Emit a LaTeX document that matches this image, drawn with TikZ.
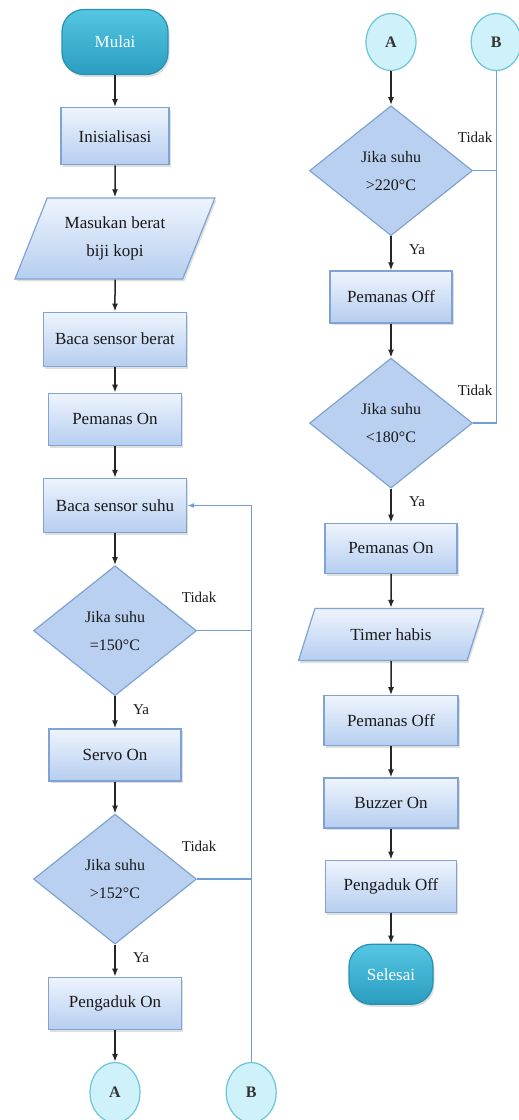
\documentclass[tikz,border=0pt]{standalone}
\usepackage{fontspec}
\setmainfont{Liberation Serif}
\usetikzlibrary{positioning,shapes.geometric,shadows,arrows.meta}

\definecolor{boxtop}{HTML}{EEF4FD}
\definecolor{boxbot}{HTML}{B6CEF0}
\definecolor{boxline}{HTML}{7FA3D3}
\definecolor{diafill}{HTML}{B9D0F0}
\definecolor{termtop}{HTML}{55C6E2}
\definecolor{termbot}{HTML}{2A9DC0}
\definecolor{termline}{HTML}{2A8FB0}
\definecolor{connfill}{HTML}{CFF1F9}
\definecolor{connline}{HTML}{6CC4D8}
\definecolor{loopline}{HTML}{6F9FD4}

\tikzset{
    shade/.style={drop shadow={opacity=0.25,shadow xshift=1.5pt,shadow yshift=-2.5pt}},
    proc/.style={rectangle,draw=boxline,line width=1.2pt,top color=boxtop,bottom color=boxbot,
        minimum height=52pt,font=\fontsize{17}{20}\selectfont,text=black!90,shade},
    io/.style={trapezium,trapezium left angle=63,trapezium right angle=117,trapezium stretches=true,
        draw=boxline,line width=1.2pt,top color=boxtop,bottom color=boxbot,minimum height=52pt,
        align=center,font=\fontsize{17}{28}\selectfont,text=black!90,shade},
    dec/.style={diamond,draw=boxline,line width=1.2pt,fill=diafill,minimum width=163pt,
        minimum height=130pt,inner sep=2pt,align=center,font=\fontsize{16}{28}\selectfont,text=black!90},
    term/.style={rectangle,rounded corners=22pt,draw=termline,line width=1.2pt,top color=termtop,
        bottom color=termbot,text=white,font=\fontsize{17}{20}\selectfont,shade},
    conn/.style={ellipse,draw=connline,line width=1.2pt,fill=connfill,minimum width=50pt,
        minimum height=60pt,inner sep=0pt,font=\fontsize{16}{20}\selectfont\bfseries,text=black!80},
    lbl/.style={font=\fontsize{15}{18}\selectfont,text=black!90},
    arr/.style={-{Latex[length=8pt,width=6pt]},line width=1.5pt,black!85},
    loop/.style={draw=loopline,line width=1.3pt}
}

\begin{document}
\begin{tikzpicture}[x=1pt,y=1pt]
    \useasboundingbox (0,0) rectangle (519,-1120);

    % left column
    \begin{scope}[node distance=32pt]
        \node (mulai)  [term,minimum width=106pt,minimum height=65pt] at (115,-42) {Mulai};
        \node (init)   [proc,minimum width=108pt,minimum height=57pt,below=of mulai] {Inisialisasi};
        \node (input)  [io,minimum width=200pt,minimum height=81pt,below=of init] {Masukan berat\\biji kopi};
        \node (bberat) [proc,minimum width=143pt,minimum height=54pt,below=of input] {Baca sensor berat};
        \node (pon1)   [proc,minimum width=133pt,below=26pt of bberat] {Pemanas On};
        \node (bsuhu)  [proc,minimum width=143pt,minimum height=54pt,below=of pon1] {Baca sensor suhu};
        \node (d1)     [dec,below=of bsuhu] {Jika suhu\\=150°C};
        \node (servo)  [proc,minimum width=132pt,below=of d1] {Servo On};
        \node (d2)     [dec,below=of servo] {Jika suhu\\>152°C};
        \node (aduk)   [proc,minimum width=133pt,below=of d2] {Pengaduk On};
        \node (A1)     [conn,below=of aduk] {A};
        \node (B1)     [conn,right=85pt of A1] {B};
    \end{scope}

    % right column
    \begin{scope}[node distance=34pt]
        \node (A2)      [conn,minimum height=57pt] at (391,-42) {A};
        \node (B2)      [conn,minimum height=57pt,right=54pt of A2] {B};
        \node (d3)      [dec,below=of A2] {Jika suhu\\>220°C};
        \node (poff1)   [proc,minimum width=122pt,below=of d3] {Pemanas Off};
        \node (d4)      [dec,below=of poff1] {Jika suhu\\<180°C};
        \node (pon2)    [proc,minimum width=132pt,minimum height=50pt,below=of d4] {Pemanas On};
        \node (timer)   [io,minimum width=185pt,below=of pon2] {Timer habis};
        \node (poff2)   [proc,minimum width=134pt,minimum height=50pt,below=of timer] {Pemanas Off};
        \node (buzz)    [proc,minimum width=134pt,minimum height=50pt,below=31pt of poff2] {Buzzer On};
        \node (aoff)    [proc,minimum width=131pt,below=31pt of buzz] {Pengaduk Off};
        \node (selesai) [term,minimum width=84pt,minimum height=60pt,below=31pt of aoff] {Selesai};
    \end{scope}

    % main flow
    \foreach \a/\b in {mulai/init,init/input,input/bberat,bberat/pon1,pon1/bsuhu,bsuhu/d1,
                       d1/servo,servo/d2,d2/aduk,aduk/A1,
                       A2/d3,d3/poff1,poff1/d4,d4/pon2,pon2/timer,timer/poff2,
                       poff2/buzz,buzz/aoff,aoff/selesai}
        \draw [arr] (\a) -- (\b);

    % Tidak / Ya
    \foreach \d in {d1,d2,d3,d4} {
        \node (\d t) [lbl] at ([xshift=2pt,yshift=33pt]\d.east) {Tidak};
        \node (\d y) [lbl] at ([xshift=26pt,yshift=-13pt]\d.south) {Ya};
    }

    % loops back
    \draw [loop] (d1.east) -- (d1.east -| B1);
    \draw [loop] (d2.east) -- (d2.east -| B1);
    \draw [loop,-{Latex[length=7pt,width=5pt]}] (B1.north) -- (B1.north |- bsuhu.east) -- (bsuhu.east);
    \draw [loop] (d3.east) -- (d3.east -| B2);
    \draw [loop] (B2.south) -- (B2.south |- d4.east) -- (d4.east);
\end{tikzpicture}
\end{document}
